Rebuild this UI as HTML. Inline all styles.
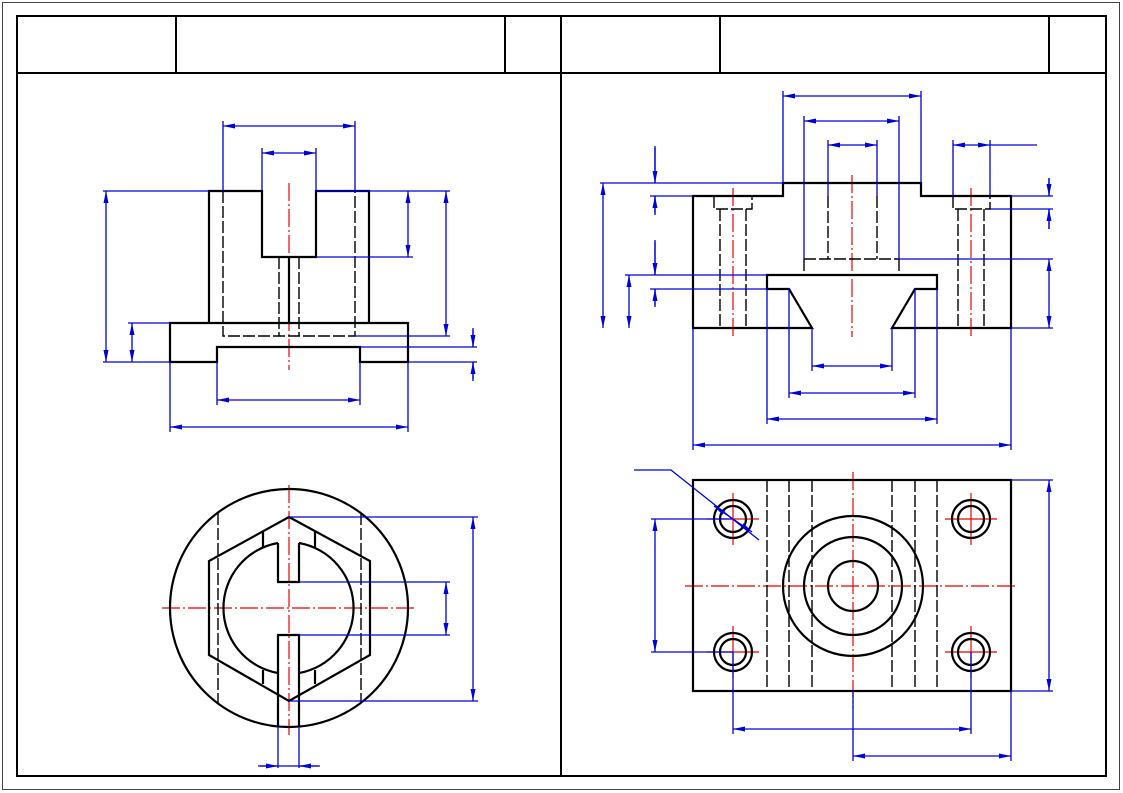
<!DOCTYPE html>
<html><head><meta charset="utf-8"><style>html,body{margin:0;padding:0;background:#fff}svg{display:block}</style></head><body>
<svg width="1123" height="793" viewBox="0 0 1123 793" xmlns="http://www.w3.org/2000/svg">
<defs>
<marker id="a" viewBox="0 0 12 6" refX="12" refY="3" markerWidth="12" markerHeight="6" markerUnits="userSpaceOnUse" orient="auto-start-reverse"><path d="M0,0.5 L12,3 L0,5.5z" fill="#0000dd"/></marker>
</defs>
<rect x="2.5" y="2.5" width="1117" height="787" fill="none" stroke="#444" stroke-width="1"/>
<g stroke="#000" stroke-width="2" fill="none">
<rect x="17" y="16" width="1089" height="760"/>
<line x1="17" y1="73" x2="1106" y2="73"/>
<line x1="176" y1="16" x2="176" y2="73"/><line x1="505" y1="16" x2="505" y2="73"/>
<line x1="561" y1="16" x2="561" y2="776"/><line x1="720" y1="16" x2="720" y2="73"/><line x1="1049" y1="16" x2="1049" y2="73"/>
</g>

<g stroke="#e00" stroke-width="1.2" stroke-dasharray="18,3,2,3" fill="none">
<line x1="289" y1="183" x2="289" y2="370"/>
<line x1="162" y1="608" x2="415" y2="608"/><line x1="289" y1="485" x2="289" y2="735"/>
<line x1="852" y1="175" x2="852" y2="337"/><line x1="733" y1="188" x2="733" y2="337"/><line x1="971" y1="188" x2="971" y2="337"/>
<line x1="685" y1="586" x2="1018" y2="586"/><line x1="853" y1="472" x2="853" y2="708"/>
</g>
<g stroke="#e00" stroke-width="1.2">
<path d="M707,519h52M733,493v52M945,519h52M971,493v52M707,652h52M733,626v52M945,652h52M971,626v52"/>
</g>

<g stroke="#000" stroke-width="1.4" stroke-dasharray="12,3" fill="none">
<path d="M223,191V336H355V191M279,257V336M299,257V336"/>
<path d="M218,513V703M361,513V703"/>
<path d="M828,196V259M877,196V259M804,259H899M804,259V275M899,259V275"/>
<path d="M714,196V209H752V196M720,209V328M746,209V328"/>
<path d="M953,196V209H990V196M958,209V328M984,209V328"/>
<path d="M767,480V691M789,480V691M812,480V691M892,480V691M915,480V691M937,480V691"/>
</g>

<g stroke="#000" stroke-width="2.2" fill="none">
<path d="M209,323V191H262V257H316V191H369V323"/>
<path d="M289,257V323"/>
<path d="M170,323H408V362H360V347H217V362H170Z"/>
<circle cx="289" cy="608" r="119"/>
<path d="M289,517L370,561V655L289,701L209,655V561Z"/>
<path d="M299,543A66,66 0 0 1 299,673M278,673A66,66 0 0 1 278,543"/>
<path d="M278,543V582H299V543M278,673V727M299,673V727M278,727V635H299V727"/>
<path d="M263,532V547M315,532V547M263,670V684M315,670V684"/>
<path d="M693,328V196H783V183H921V196H1011V328H892L915,289H937V275H767V289H789L812,328Z"/>
<rect x="693" y="480" width="318" height="211"/>
<circle cx="853" cy="586" r="70"/><circle cx="853" cy="586" r="49"/><circle cx="853" cy="586" r="25"/>
<circle cx="733" cy="519" r="19"/><circle cx="733" cy="519" r="13"/>
<circle cx="971" cy="519" r="19"/><circle cx="971" cy="519" r="13"/>
<circle cx="733" cy="652" r="19"/><circle cx="733" cy="652" r="13"/>
<circle cx="971" cy="652" r="19"/><circle cx="971" cy="652" r="13"/>
</g>

<g stroke="#0000dd" stroke-width="1.3" fill="none">
<path d="M223,191V121M355,191V121M262,191V148M316,191V148"/>
<path d="M103,191H209M316,191H450M316,257H413M355,336H450M360,347H477M408,362H477M128,323H170M103,362H170"/>
<path d="M217,362V405M360,362V405M170,362V432M408,362V432"/>
<path d="M289,517H478M289,701H478M299,582H450M299,635H450M278,727V768M299,727V768"/>
<path d="M783,183V91M921,183V91M804,259V116M899,259V116M828,196V140M877,196V140M953,196V140M990,196V140M990,145H1037"/>
<path d="M600,183H783M625,275H767M650,196H693M650,289H767M990,209H1053M1011,196H1053M899,259H1053M1011,328H1053"/>
<path d="M812,328V371M892,328V371M789,289V398M915,289V398M767,289V424M937,289V424M693,328V450M1011,328V450"/>
<path d="M1011,480H1053M1011,691H1053M651,519H733M651,652H733M733,652V734M971,652V734M853,691V761M1011,691V761"/>
<path d="M634,470H671L759,540"/>
<path d="M473,328V347M473,362V381M655,146V183M655,196V215M655,240V275M655,289V307M1049,178V196M1049,209V229"/>
</g>
<g stroke="#0000dd" stroke-width="1.3" fill="none" marker-start="url(#a)" marker-end="url(#a)">
<line x1="223" y1="126" x2="355" y2="126"/><line x1="262" y1="153" x2="316" y2="153"/>
<line x1="106" y1="191" x2="106" y2="362"/><line x1="132" y1="323" x2="132" y2="362"/>
<line x1="408" y1="191" x2="408" y2="257"/><line x1="446" y1="191" x2="446" y2="336"/>
<line x1="217" y1="400" x2="360" y2="400"/><line x1="170" y1="427" x2="408" y2="427"/>
<line x1="473" y1="517" x2="473" y2="701"/><line x1="446" y1="582" x2="446" y2="635"/>
<line x1="783" y1="96" x2="921" y2="96"/><line x1="804" y1="121" x2="899" y2="121"/><line x1="828" y1="145" x2="877" y2="145"/><line x1="953" y1="145" x2="990" y2="145"/>
<line x1="603" y1="183" x2="603" y2="328"/><line x1="629" y1="275" x2="629" y2="328"/>
<line x1="1049" y1="259" x2="1049" y2="328"/>
<line x1="812" y1="366" x2="892" y2="366"/><line x1="789" y1="393" x2="915" y2="393"/><line x1="767" y1="419" x2="937" y2="419"/><line x1="693" y1="445" x2="1011" y2="445"/>
<line x1="1049" y1="480" x2="1049" y2="691"/><line x1="655" y1="519" x2="655" y2="652"/>
<line x1="733" y1="729" x2="971" y2="729"/><line x1="853" y1="756" x2="1011" y2="756"/>
<line x1="714" y1="506" x2="752" y2="532"/>
</g>
<g stroke="#0000dd" stroke-width="1.3" fill="none" marker-end="url(#a)">
<line x1="473" y1="330" x2="473" y2="347"/><line x1="473" y1="379" x2="473" y2="362"/>
<line x1="258" y1="766" x2="278" y2="766"/><line x1="320" y1="766" x2="299" y2="766"/>
<line x1="655" y1="148" x2="655" y2="183"/><line x1="655" y1="213" x2="655" y2="196"/>
<line x1="655" y1="242" x2="655" y2="275"/><line x1="655" y1="305" x2="655" y2="289"/>
<line x1="1049" y1="178" x2="1049" y2="196"/><line x1="1049" y1="229" x2="1049" y2="209"/>
</g>
<line x1="260" y1="766" x2="318" y2="766" stroke="#0000dd" stroke-width="1.3"/>
</svg>
</body></html>
